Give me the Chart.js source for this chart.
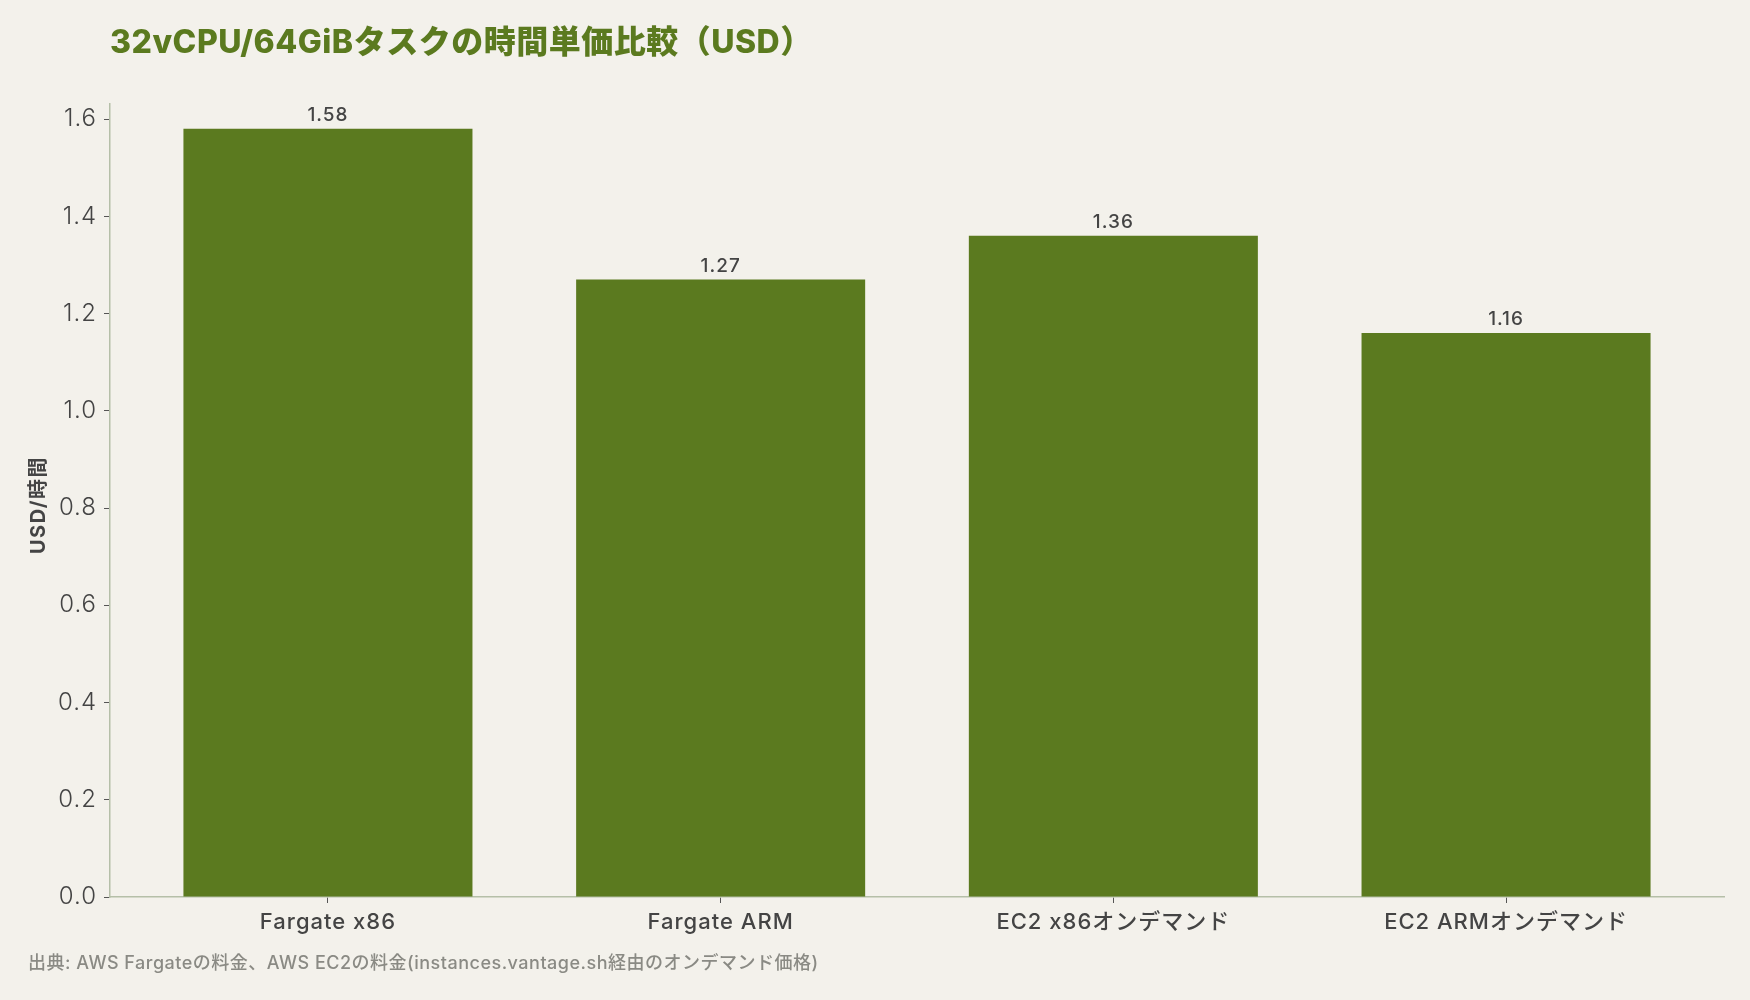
<!DOCTYPE html>
<html lang="ja">
<head>
<meta charset="utf-8">
<title>32vCPU/64GiBタスクの時間単価比較（USD）</title>
<script src="https://cdn.jsdelivr.net/npm/chart.js@4.4.1/dist/chart.umd.min.js"></script>
<style>
  html, body { margin: 0; padding: 0; background: #f3f1eb; }
  #wrap { width: 1750px; height: 1000px; position: relative; }
</style>
</head>
<body>
<div id="wrap"><canvas id="chart" width="1750" height="1000"></canvas></div>
<script>
// data
var categories = ['Fargate x86', 'Fargate ARM', 'EC2 x86オンデマンド', 'EC2 ARMオンデマンド'];
var prices = [1.58, 1.27, 1.36, 1.16];
var yTicks = [0, 0.2, 0.4, 0.6, 0.8, 1.0, 1.2, 1.4, 1.6];

var titleText = '32vCPU/64GiBタスクの時間単価比較（USD）';
var yTitle = 'USD/時間';
var sourceText = '出典: AWS Fargateの料金、AWS EC2の料金(instances.vantage.sh経由のオンデマンド価格)';

var FONT = 'Inter, "Noto Sans CJK JP", sans-serif';
var GREEN = '#5b7a1f';
var TEXT = '#444444';

// wider letter spacing for the axis text, like the original
var spacingPlugin = {
  id: 'spacing',
  beforeDraw: function(chart) {
    chart.ctx.letterSpacing = '1px';
  }
};

// title, y axis title, footer and value labels
var textPlugin = {
  id: 'texts',
  afterDatasetsDraw: function(chart) {
    var ctx = chart.ctx;
    ctx.save();

    // value labels above bars
    var meta = chart.getDatasetMeta(0);
    ctx.letterSpacing = '1px';
    ctx.fillStyle = TEXT;
    ctx.font = '500 19px ' + FONT;
    ctx.textAlign = 'center';
    ctx.textBaseline = 'bottom';
    meta.data.forEach(function(bar, i) {
      ctx.fillText(prices[i].toFixed(2), bar.x, bar.y - 4);
    });

    // title
    ctx.letterSpacing = '0.5px';
    ctx.fillStyle = GREEN;
    ctx.font = '800 32px ' + FONT;
    ctx.textAlign = 'left';
    ctx.textBaseline = 'alphabetic';
    ctx.fillText(titleText, 110, 53);

    // y axis title
    ctx.save();
    ctx.letterSpacing = '1.5px';
    ctx.translate(39, 505);
    ctx.rotate(-Math.PI / 2);
    ctx.fillStyle = TEXT;
    ctx.font = '700 20px ' + FONT;
    ctx.textAlign = 'center';
    ctx.textBaseline = 'middle';
    ctx.fillText(yTitle, 0, 0);
    ctx.restore();

    // source
    ctx.letterSpacing = '0.5px';
    ctx.fillStyle = '#8a8a84';
    ctx.font = '500 18px ' + FONT;
    ctx.textAlign = 'left';
    ctx.textBaseline = 'middle';
    ctx.fillText(sourceText, 28, 964);

    ctx.restore();
  }
};

var ctx = document.getElementById('chart');
var chart = new Chart(ctx, {
  type: 'bar',
  data: {
    datasets: [{
      data: prices.map(function(v, i) { return { x: i, y: v }; }),
      backgroundColor: GREEN,
      borderWidth: 0,
      barPercentage: 0.736,
      categoryPercentage: 1.0
    }]
  },
  options: {
    responsive: false,
    animation: false,
    layout: { padding: { left: 0, right: 26, top: 104, bottom: 0 } },
    plugins: {
      legend: { display: false },
      tooltip: { enabled: false }
    },
    scales: {
      x: {
        type: 'linear',
        offset: false,
        min: -0.555,
        max: 3.555,
        afterBuildTicks: function(scale) {
          scale.ticks = categories.map(function(c, i) { return { value: i }; });
        },
        afterFit: function(scale) { scale.height = 103; },
        grid: { offset: false, drawOnChartArea: false, drawTicks: true, tickLength: 6, color: '#555555', lineWidth: 1 },
        border: { color: '#b5bfa8', width: 1.5 },
        ticks: {
          autoSkip: false,
          maxRotation: 0,
          padding: 6,
          color: TEXT,
          font: { family: FONT, size: 22, weight: '500' },
          callback: function(v) { return categories[v]; }
        }
      },
      y: {
        min: 0,
        max: 1.631,
        afterBuildTicks: function(scale) {
          scale.ticks = yTicks.map(function(v) { return { value: v }; });
        },
        afterFit: function(scale) { scale.width = 110; },
        grid: { drawOnChartArea: false, drawTicks: true, tickLength: 6, color: '#555555', lineWidth: 1 },
        border: { color: '#b5bfa8', width: 1.5 },
        ticks: {
          padding: 7,
          color: TEXT,
          font: { family: FONT, size: 24, weight: '300' },
          callback: function(v) { return v.toFixed(1); }
        }
      }
    }
  },
  plugins: [spacingPlugin, textPlugin]
});
</script>
</body>
</html>
